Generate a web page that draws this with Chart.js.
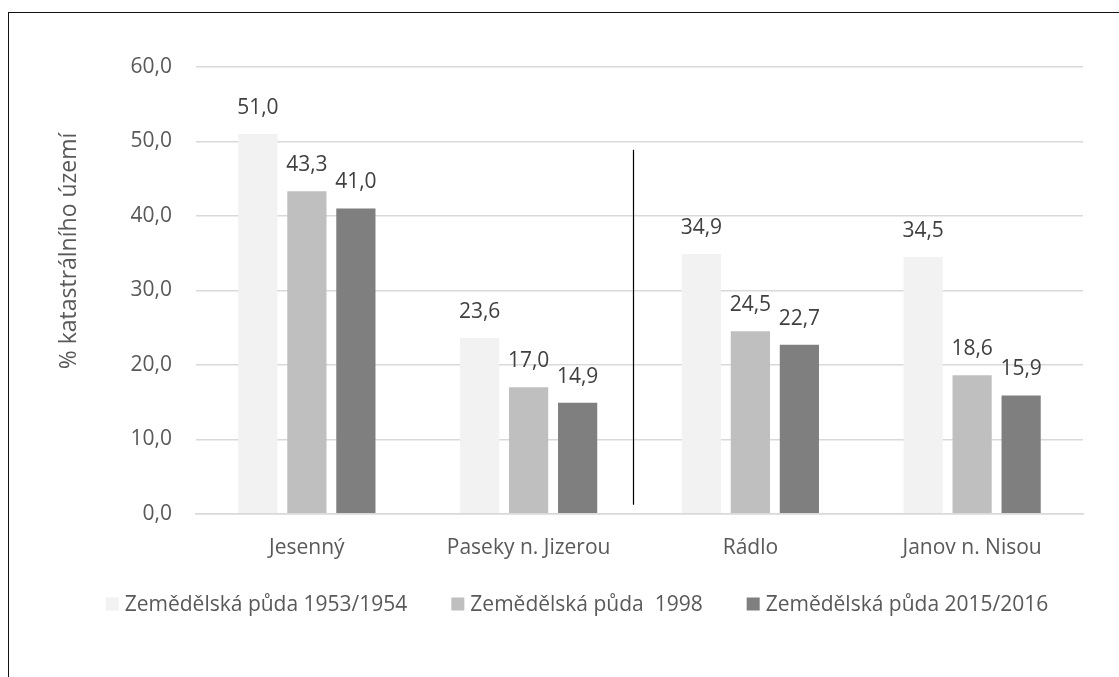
<!DOCTYPE html>
<html>
<head>
<meta charset="utf-8">
<script src="https://cdn.jsdelivr.net/npm/chart.js@4/dist/chart.umd.min.js"></script>
<style>
  html, body { margin: 0; padding: 0; background: #fff; }
  #wrap { position: relative; width: 1119px; height: 677px; }
  #frame { position: absolute; left: 8px; top: 12px; width: 1111px; height: 665px;
           border-left: 1.5px solid #111; border-top: 1.5px solid #111; box-sizing: border-box; pointer-events: none; }
  canvas { position: absolute; left: 0; top: 0; }
</style>
</head>
<body>
<div id="wrap">
  <canvas id="c" width="1119" height="677"></canvas>
  <div id="frame"></div>
</div>
<script>
const categories = ["Jesenný", "Paseky n. Jizerou", "Rádlo", "Janov n. Nisou"];
const seriesNames = ["Zemědělská půda 1953/1954", "Zemědělská půda  1998", "Zemědělská půda 2015/2016"];
const values1953 = [51.0, 23.6, 34.9, 34.5];
const values1998 = [43.3, 17.0, 24.5, 18.6];
const values2015 = [41.0, 14.9, 22.7, 15.9];
const seriesColors = ["#f2f2f2", "#bfbfbf", "#7f7f7f"];
const yTicks = [0, 10, 20, 30, 40, 50, 60];
const yTitle = "% katastrálního území";
const dividerAt = 1.47;          // position along the category axis
const dividerRange = [1.2, 48.9]; // in y values

const FONT = "'Open Sans', 'Noto Sans', sans-serif";
const TXT = "#595959";
const fmt = v => v.toFixed(1).replace('.', ',');

const valueLabels = {
  id: 'valueLabels',
  afterDatasetsDraw(chart) {
    const ctx = chart.ctx;
    ctx.save();
    ctx.font = "21px " + FONT;
    ctx.fillStyle = "#404040";
    ctx.textAlign = 'center';
    ctx.textBaseline = 'middle';
    chart.data.datasets.forEach((ds, i) => {
      chart.getDatasetMeta(i).data.forEach((bar, j) => {
        ctx.fillText(fmt(ds.data[j]), bar.x, bar.y - 26);
      });
    });
    ctx.restore();
  }
};

const divider = {
  id: 'divider',
  afterDatasetsDraw(chart) {
    const x = chart.scales.x, y = chart.scales.y;
    const xp = x.getPixelForValue(dividerAt);
    const ctx = chart.ctx;
    ctx.save();
    ctx.strokeStyle = "#000";
    ctx.lineWidth = 1.2;
    ctx.beginPath();
    ctx.moveTo(Math.round(xp) + 0.5, y.getPixelForValue(dividerRange[1]));
    ctx.lineTo(Math.round(xp) + 0.5, y.getPixelForValue(dividerRange[0]));
    ctx.stroke();
    ctx.restore();
  }
};

// Y axis title (rotated), placed like the reference (slightly above plot centre)
const axisTitle = {
  id: 'axisTitle',
  afterDraw(chart) {
    const ctx = chart.ctx;
    ctx.save();
    ctx.translate(69, 251);
    ctx.rotate(-Math.PI / 2);
    ctx.font = "23px " + FONT;
    ctx.fillStyle = TXT;
    ctx.textAlign = 'center';
    ctx.textBaseline = 'middle';
    ctx.fillText(yTitle, 0, 0);
    ctx.restore();
  }
};

// Legend drawn from the chart's datasets (labels + colours)
const bottomLegend = {
  id: 'bottomLegend',
  afterDraw(chart) {
    const ctx = chart.ctx;
    ctx.save();
    ctx.font = "21px " + FONT;
    ctx.textBaseline = 'middle';
    ctx.textAlign = 'left';
    const box = 13, gapText = 6, gapItem = 44, cy = 604;
    const items = chart.data.datasets.map(ds => ({ text: ds.label, color: ds.backgroundColor, w: ctx.measureText(ds.label).width }));
    const total = items.reduce((a, it) => a + box + gapText + it.w, 0) + gapItem * (items.length - 1);
    let x = 577 - total / 2;
    items.forEach(it => {
      ctx.fillStyle = it.color;
      ctx.fillRect(x, cy - box / 2, box, box);
      x += box + gapText;
      ctx.fillStyle = TXT;
      ctx.fillText(it.text, x, cy + 1);
      x += it.w + gapItem;
    });
    ctx.restore();
  }
};

new Chart(document.getElementById('c'), {
  type: 'bar',
  data: {
    labels: categories,
    datasets: [
      { label: seriesNames[0], data: values1953, backgroundColor: seriesColors[0] },
      { label: seriesNames[1], data: values1998, backgroundColor: seriesColors[1] },
      { label: seriesNames[2], data: values2015, backgroundColor: seriesColors[2] }
    ]
  },
  options: {
    responsive: false,
    animation: false,
    layout: { padding: { left: 52, right: 36, top: 67, bottom: 94 } },
    datasets: { bar: { categoryPercentage: 0.663, barPercentage: 0.8 } },
    plugins: {
      tooltip: { enabled: false },
      legend: { display: false }
    },
    scales: {
      x: {
        grid: { display: false, drawTicks: false },
        border: { color: "#d9d9d9", width: 1.5 },
        ticks: { color: TXT, font: { family: FONT, size: 21 }, padding: 22 }
      },
      y: {
        min: 0, max: 60,
        afterBuildTicks: s => { s.ticks = yTicks.map(v => ({ value: v })); },
        afterFit: s => { s.width = 144; },
        grid: { color: "#d9d9d9", lineWidth: 1.5, drawTicks: false },
        border: { display: false },
        ticks: { color: TXT, font: { family: FONT, size: 21 }, padding: 24, callback: v => fmt(v) },
        title: { display: false, text: yTitle }
      }
    }
  },
  plugins: [valueLabels, divider, axisTitle, bottomLegend]
});
</script>
</body>
</html>
